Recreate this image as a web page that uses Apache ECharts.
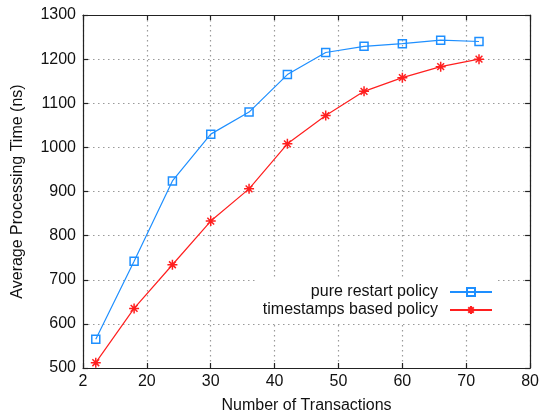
<!DOCTYPE html>
<html>
<head>
<meta charset="utf-8">
<script src="https://cdn.jsdelivr.net/npm/echarts@6/dist/echarts.min.js"></script>
<style>
html,body{margin:0;padding:0;background:#fff;}
#main{width:542px;height:419px;}
</style>
</head>
<body>
<div id="main"></div>
<script>
// ---- data ----
const xValues = [12, 18, 24, 30, 36, 42, 48, 54, 60, 66, 72];
const pureRestart = [565, 742, 924, 1030, 1080, 1165, 1215, 1229, 1235, 1243, 1240];
const timestampsBased = [512, 635, 734, 833, 906, 1008, 1072, 1127, 1158, 1183, 1200];
const xTickValues = [10, 20, 30, 40, 50, 60, 70, 80];
const xTickLabels = ['2', '20', '30', '40', '50', '60', '70', '80'];
const yTickLabels = ['500', '600', '700', '800', '900', '1000', '1100', '1200', '1300'];
const seriesNames = ['pure restart policy', 'timestamps based policy'];
const xTitle = 'Number of Transactions';
const yTitle = 'Average Processing Time (ns)';

const BLUE = '#1e8fff';
const RED = '#ff1f1f';
const FONT = 'Liberation Sans';
const STAR = 'path://M5,0L5,10M0,5L10,5M1.6,1.6L8.4,8.4M1.6,8.4L8.4,1.6';

function pairs(ys) { return xValues.map((x, i) => [x, ys[i]]); }
function xLabel(v) { const i = xTickValues.indexOf(v); return i >= 0 ? xTickLabels[i] : ''; }

const gridLine = { show: true, lineStyle: { color: '#9a9a9a', type: [1.5, 3.5], width: 1.2 } };
const axisLine = { show: true, lineStyle: { color: '#222', width: 1.2 } };
const axisTick = { show: true, inside: true, length: 5, lineStyle: { color: '#222', width: 1.2 } };

const chart = echarts.init(document.getElementById('main'), null, { renderer: 'canvas' });
chart.setOption({
  animation: false,
  backgroundColor: '#fff',
  textStyle: { fontFamily: FONT },
  grid: { left: 83, right: 8, top: 15, bottom: 47, containLabel: false },
  legend: {
    orient: 'vertical',
    align: 'right',
    right: 44,
    top: 279,
    itemWidth: 42,
    itemHeight: 10,
    itemGap: 2,
    backgroundColor: '#fff',
    padding: 5,
    textStyle: { fontFamily: FONT, fontSize: 16, color: '#111', padding: [0, 7, 0, 0] },
    data: seriesNames
  },
  xAxis: [{
    type: 'value', min: 10, max: 80, interval: 10, position: 'bottom',
    axisLine: axisLine, axisTick: axisTick, splitLine: gridLine,
    axisLabel: { formatter: xLabel, fontSize: 16, color: '#111', margin: 6, fontFamily: FONT, showMinLabel: true, showMaxLabel: true },
    name: xTitle, nameLocation: 'middle', nameGap: 30,
    nameTextStyle: { fontSize: 16, color: '#111', fontFamily: FONT }
  }, {
    type: 'value', min: 10, max: 80, interval: 10, position: 'top',
    axisLine: axisLine, axisTick: axisTick, splitLine: { show: false },
    axisLabel: { show: false }
  }],
  yAxis: [{
    type: 'value', min: 500, max: 1300, interval: 100, position: 'left',
    axisLine: axisLine, axisTick: axisTick, splitLine: gridLine,
    axisLabel: { formatter: v => yTickLabels[Math.round((v - 500) / 100)] || '', fontSize: 16, color: '#111', margin: 7, fontFamily: FONT },
    name: yTitle, nameLocation: 'middle', nameGap: 57,
    nameTextStyle: { fontSize: 16, color: '#111', fontFamily: FONT }
  }, {
    type: 'value', min: 500, max: 1300, interval: 100, position: 'right',
    axisLine: axisLine, axisTick: axisTick, splitLine: { show: false },
    axisLabel: { show: false }
  }],
  series: [{
    name: seriesNames[0], type: 'line', data: pairs(pureRestart),
    xAxisIndex: 0, yAxisIndex: 0,
    symbol: 'rect', symbolSize: 8, showAllSymbol: true,
    lineStyle: { color: BLUE, width: 1.2 },
    itemStyle: { color: 'rgba(0,0,0,0)', borderColor: BLUE, borderWidth: 1.5 },
    emphasis: { disabled: true }
  }, {
    name: seriesNames[1], type: 'line', data: pairs(timestampsBased),
    xAxisIndex: 0, yAxisIndex: 0,
    symbol: STAR, symbolSize: 10, showAllSymbol: true,
    lineStyle: { color: RED, width: 1.2 },
    itemStyle: { color: RED, borderColor: RED, borderWidth: 1.5 },
    emphasis: { disabled: true }
  }]
});
</script>
</body>
</html>
